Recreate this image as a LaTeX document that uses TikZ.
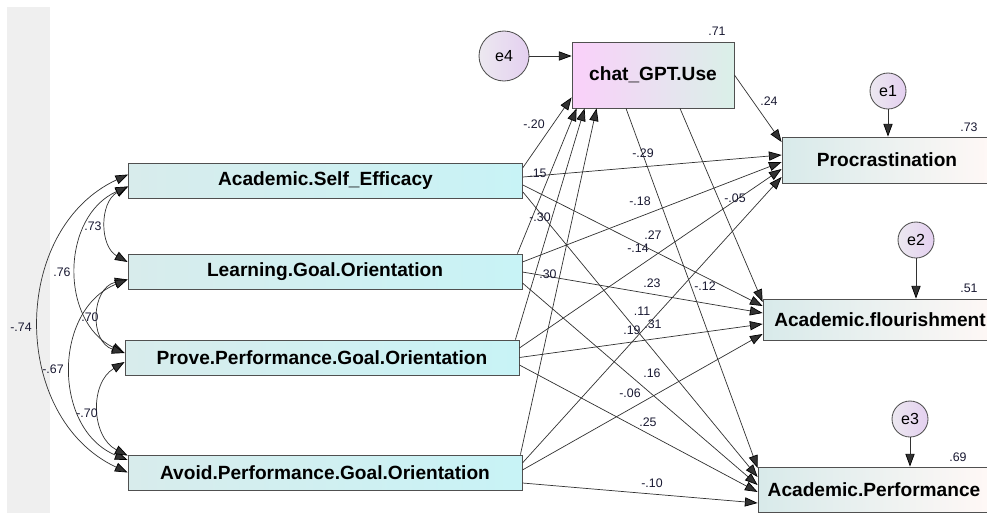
\documentclass[tikz,border=0pt]{standalone}
\usepackage{fontspec}
\setmainfont{Liberation Sans}
\usetikzlibrary{arrows.meta}

\newcommand\pxu{0.025cm}
\definecolor{stripC}{RGB}{239,239,239}
\definecolor{lineC}{RGB}{50,50,50}
\definecolor{edgeC}{RGB}{80,80,80}
\definecolor{lblC}{RGB}{25,25,50}
\definecolor{exoL}{RGB}{216,236,236}
\definecolor{exoR}{RGB}{200,243,246}
\definecolor{endoL}{RGB}{216,234,234}
\definecolor{endoR}{RGB}{255,248,246}
\definecolor{chatL}{RGB}{250,208,250}
\definecolor{chatR}{RGB}{218,240,232}
\definecolor{errL}{RGB}{236,232,240}
\definecolor{errR}{RGB}{228,208,240}

\begin{document}
\begin{tikzpicture}[x=\pxu, y=-\pxu,
  obs/.style={rectangle, draw=edgeC, line width=0.6pt, inner sep=0pt, minimum height=35*\pxu, font=\fontsize{13.6}{16}\selectfont\bfseries},
  exo/.style={obs, left color=exoL, right color=exoR, minimum width=394*\pxu},
  endo/.style={obs, left color=endoL, right color=endoR},
  err/.style={circle, draw=edgeC, line width=0.6pt, left color=errL, right color=errR, inner sep=0pt, minimum size=36*\pxu, font=\fontsize{11.4}{13}\selectfont},
  wt/.style={inner sep=0pt, text=lblC, font=\fontsize{8.8}{10}\selectfont},
  reg/.style={-{Triangle[length=9pt,width=6.5pt,color=black]}, lineC, line width=0.5pt},
  cov/.style={{Triangle[length=9pt,width=6.5pt,color=black]}-{Triangle[length=9pt,width=6.5pt,color=black]}, lineC, line width=0.5pt}]

\fill[white] (0,0) rectangle (987,513);
\useasboundingbox (0,0) rectangle (987,513);
\fill[stripC] (7,7) rectangle (50,513);

\node[exo] (se) at (325.5,180.5) {Academic.Self\_Efficacy};
\node[exo] (lg) at (325,271.5) {Learning.Goal.Orientation};
\node[exo] (pp) at (322,357.5) {Prove.Performance.Goal.Orientation};
\node[exo] (ap) at (325,472.5) {Avoid.Performance.Goal.Orientation};
\node[obs, left color=chatL, right color=chatR, minimum width=162*\pxu, minimum height=66*\pxu] (chat) at (653,75) {chat\_GPT.Use};
\node[endo, minimum width=210*\pxu, minimum height=46*\pxu] (proc) at (887,160) {Procrastination};
\node[endo, minimum width=234*\pxu, minimum height=41*\pxu] (flo) at (880,319.5) {Academic.flourishment};
\node[endo, minimum width=232*\pxu, minimum height=45*\pxu] (perf) at (874,489.5) {Academic.Performance};

\node[err] (e1) at (888,91) {e1};
\node[err] (e2) at (916,240) {e2};
\node[err] (e3) at (910,419) {e3};
\node[err, minimum size=50*\pxu] (e4) at (504,56) {e4};

\path[reg] (e1) edge (e1 |- proc.north);
\path[reg] (e2) edge (e2 |- flo.north);
\path[reg] (e3) edge (e3 |- perf.north);
\path[reg] (e4) edge (chat.west |- e4);

\node[wt] (r4) at (717,31) {.71};
\node[wt] (r1) at (969,127) {.73};
\node[wt] (r2) at (969,288) {.51};
\node[wt] (r3) at (958,457) {.69};

\path[reg] (chat.east) edge ([shift={(0,-18)}]proc.west);
\path[reg] ([shift={(27,0)}]chat.south) edge ([shift={(0,-17.5)}]flo.west);
\path[reg] ([shift={(-27,0)}]chat.south) edge ([shift={(0,-21.5)}]perf.west);

\path[reg] ([shift={(0,5)}]se.north east) edge ([shift={(0,-11)}]chat.south west);
\path[reg] ([shift={(-5,0)}]lg.north east) edge ([shift={(5,0)}]chat.south west);
\path[reg] ([shift={(-4,0)}]pp.north east) edge ([shift={(13,0)}]chat.south west);
\path[reg] ([shift={(-2,0)}]ap.north east) edge ([shift={(25,0)}]chat.south west);

\path[reg] ([shift={(0,-3.5)}]se.east) edge ([shift={(0,-5)}]proc.west);
\path[reg] ([shift={(0,4.5)}]se.east) edge ([shift={(0,-13.5)}]flo.west);
\path[reg] ([shift={(0,11.5)}]se.east) edge ([shift={(0,-12.5)}]perf.west);
\path[reg] ([shift={(0,-9.5)}]lg.east) edge ([shift={(0,2)}]proc.west);
\path[reg] ([shift={(0,0.5)}]lg.east) edge ([shift={(0,-6.5)}]flo.west);
\path[reg] ([shift={(0,11.5)}]lg.east) edge ([shift={(0,-4.5)}]perf.west);
\path[reg] ([shift={(0,-9.5)}]pp.east) edge ([shift={(0,9)}]proc.west);
\path[reg] (pp.east) edge ([shift={(0,4.5)}]flo.west);
\path[reg] ([shift={(0,7.5)}]pp.east) edge ([shift={(0,2.5)}]perf.west);
\path[reg] ([shift={(0,-9.5)}]ap.east) edge ([shift={(0,17)}]proc.west);
\path[reg] ([shift={(0,-2.5)}]ap.east) edge ([shift={(0,14.5)}]flo.west);
\path[reg] ([shift={(0,10.5)}]ap.east) edge ([shift={(0,13.5)}]perf.west);

\path[cov] ([shift={(0,6)}]se.west) edge[bend right=61, looseness=1.1] ([shift={(0,-9.5)}]lg.west);
\path[cov] ([shift={(0,6)}]se.west) edge[bend right=65, looseness=1.12] ([shift={(0,-4.5)}]pp.west);
\path[cov] ([shift={(0,-6)}]se.west) edge[bend right=65, looseness=1.12] (ap.west);
\path[cov] ([shift={(0,8)}]lg.west) edge[bend right=75, looseness=1.3] ([shift={(0,-4.5)}]pp.west);
\path[cov] ([shift={(0,8)}]lg.west) edge[bend right=68, looseness=1.15] ([shift={(0,-12.5)}]ap.west);
\path[cov] ([shift={(0,4.5)}]pp.west) edge[bend right=61, looseness=1.12] ([shift={(0,1)}]ap.north west);

\node[wt] (c1) at (93,226) {.73};
\node[wt] (c2) at (62,272) {.76};
\node[wt] (c3) at (21,327) {-.74};
\node[wt] (c4) at (90,317) {.70};
\node[wt] (c5) at (53,369) {-.67};
\node[wt] (c6) at (87,413) {-.70};

\node[wt] (w1) at (534,124) {-.20};
\node[wt] (w2) at (538,173) {.15};
\node[wt] (w3) at (643,153) {-.29};
\node[wt] (w4) at (540,217) {-.30};
\node[wt] (w5) at (640,201) {-.18};
\node[wt] (w6) at (653,235) {.27};
\node[wt] (w7) at (638,248) {-.14};
\node[wt] (w8) at (548,274) {.30};
\node[wt] (w9) at (652,283) {.23};
\node[wt] (w10) at (705,286) {-.12};
\node[wt] (w11) at (735,198) {-.05};
\node[wt] (w12) at (642,311) {.11};
\node[wt] (w13) at (653,324) {.31};
\node[wt] (w14) at (632,330) {.19};
\node[wt] (w15) at (652,373) {.16};
\node[wt] (w16) at (630,393) {-.06};
\node[wt] (w17) at (648,422) {.25};
\node[wt] (w18) at (652,483) {-.10};
\node[wt] (w19) at (769,101) {.24};
\end{tikzpicture}
\end{document}
